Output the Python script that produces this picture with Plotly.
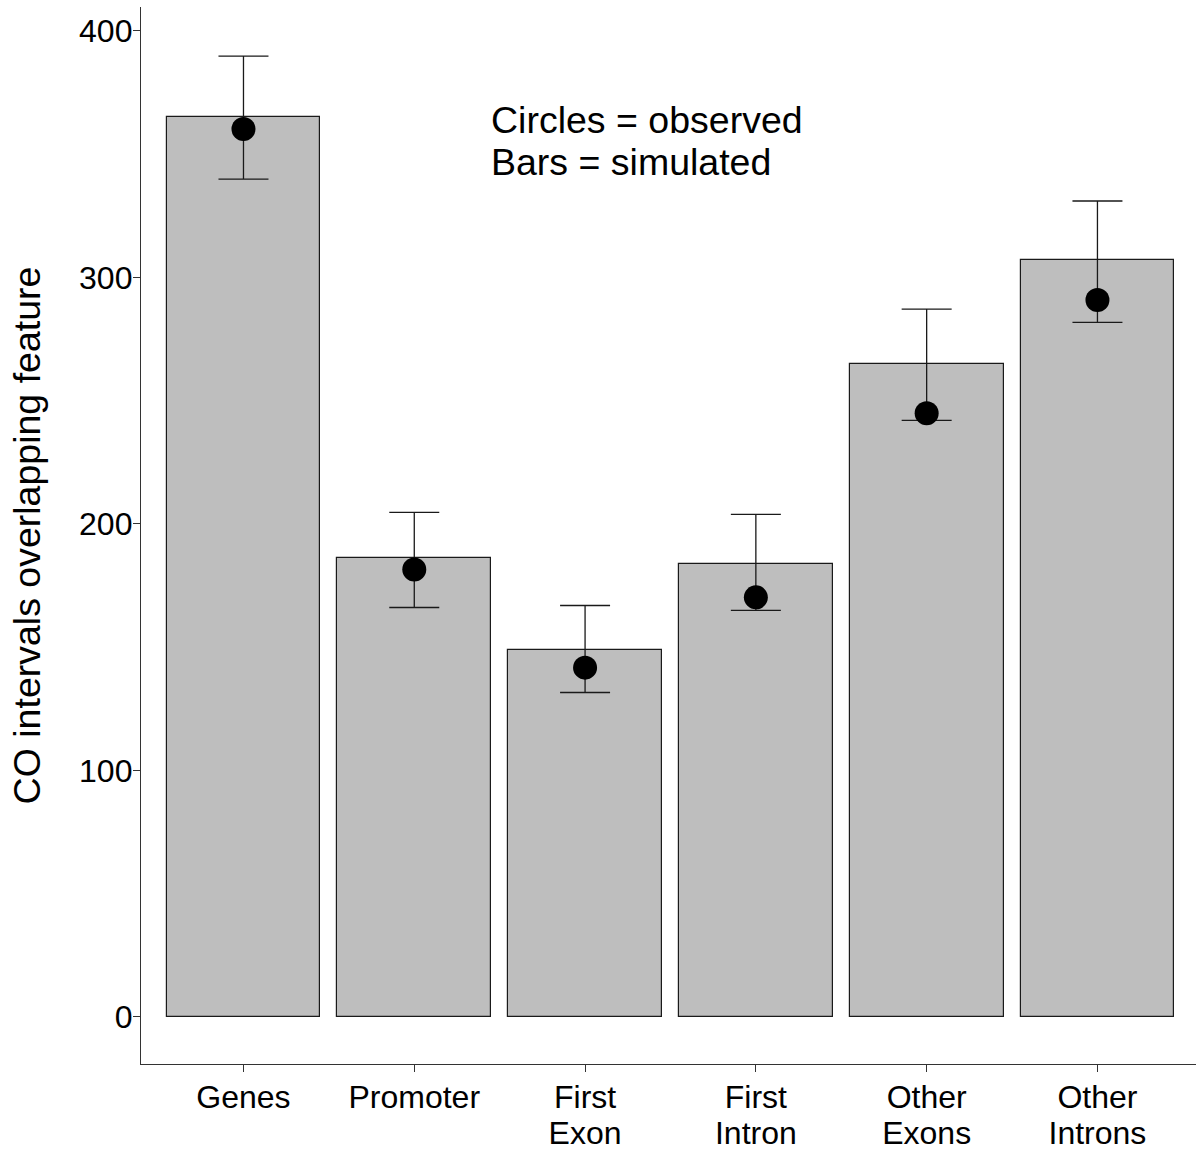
import plotly.graph_objects as go

categories_line1 = ["Genes", "Promoter", "First", "First", "Other", "Other"]
categories_line2 = ["", "", "Exon", "Intron", "Exons", "Introns"]
simulated = [365.1, 186.0, 149.0, 183.6, 264.8, 307.0]
observed = [360.2, 181.5, 141.7, 170.2, 244.9, 290.8]
err_upper = [389.8, 204.7, 166.9, 203.9, 287.1, 331.0]
err_lower = [339.9, 166.1, 131.6, 164.9, 242.0, 281.8]
y_ticks = [0, 100, 200, 300, 400]

xpos = list(range(len(categories_line1)))
FONT = "Liberation Sans, Arial, sans-serif"
XRANGE = [-0.6, 5.577]

fig = go.Figure()
fig.add_trace(go.Bar(
    x=xpos, y=simulated, width=0.9,
    marker=dict(color="#BEBEBE", line=dict(color="#1a1a1a", width=1.2)),
    showlegend=False, hoverinfo="skip",
))
fig.add_trace(go.Scatter(
    x=xpos, y=observed, mode="markers",
    marker=dict(color="black", size=24),
    error_y=dict(
        type="data", symmetric=False,
        array=[u - o for u, o in zip(err_upper, observed)],
        arrayminus=[o - l for o, l in zip(observed, err_lower)],
        color="#1a1a1a", thickness=1.3, width=25,
    ),
    showlegend=False,
))
# invisible trace so the second-line label axis is drawn
fig.add_trace(go.Scatter(
    x=xpos, y=observed, xaxis="x2", yaxis="y", mode="markers",
    marker=dict(opacity=0, size=1), showlegend=False, hoverinfo="skip",
))

fig.add_annotation(x=1.44, xref="x", y=363.9, yref="y",
                   text="Circles = observed", showarrow=False, xanchor="left", yanchor="middle",
                   font=dict(family=FONT, size=37.5, color="black"))
fig.add_annotation(x=1.44, xref="x", y=346.8, yref="y",
                   text="Bars = simulated", showarrow=False, xanchor="left", yanchor="middle",
                   font=dict(family=FONT, size=37.5, color="black"))

fig.update_layout(
    width=1196, height=1151,
    margin=dict(l=141, r=0, t=7, b=87),
    plot_bgcolor="white", paper_bgcolor="white",
    font=dict(family=FONT, color="black"),
    bargap=0,
    xaxis=dict(
        range=XRANGE, tickmode="array", tickvals=xpos, ticktext=categories_line1,
        showline=True, linecolor="#333333", linewidth=1.3,
        ticks="outside", ticklen=7, tickcolor="#333333", tickwidth=1.3,
        tickfont=dict(family=FONT, size=32, color="black"),
        ticklabelstandoff=-3,
        showgrid=False, zeroline=False, automargin=False,
    ),
    xaxis2=dict(
        overlaying="x", anchor="y", side="bottom",
        range=XRANGE, tickmode="array", tickvals=xpos, ticktext=categories_line2,
        showline=False, ticks="outside", ticklen=7, tickcolor="rgba(0,0,0,0)",
        tickfont=dict(family=FONT, size=32, color="black"),
        ticklabelstandoff=34,
        showgrid=False, zeroline=False, automargin=False,
    ),
    yaxis=dict(
        range=[-19.1, 409.7], tickmode="array", tickvals=y_ticks,
        showline=True, linecolor="#333333", linewidth=1.3,
        ticks="outside", ticklen=7, tickcolor="#333333", tickwidth=1.3,
        tickfont=dict(family=FONT, size=32, color="black"),
        ticklabelstandoff=-6,
        showgrid=False, zeroline=False, automargin=False,
        title=dict(text="CO intervals overlapping feature",
                   font=dict(family=FONT, size=37.5, color="black"), standoff=26),
    ),
)

fig.write_html("out.html")
